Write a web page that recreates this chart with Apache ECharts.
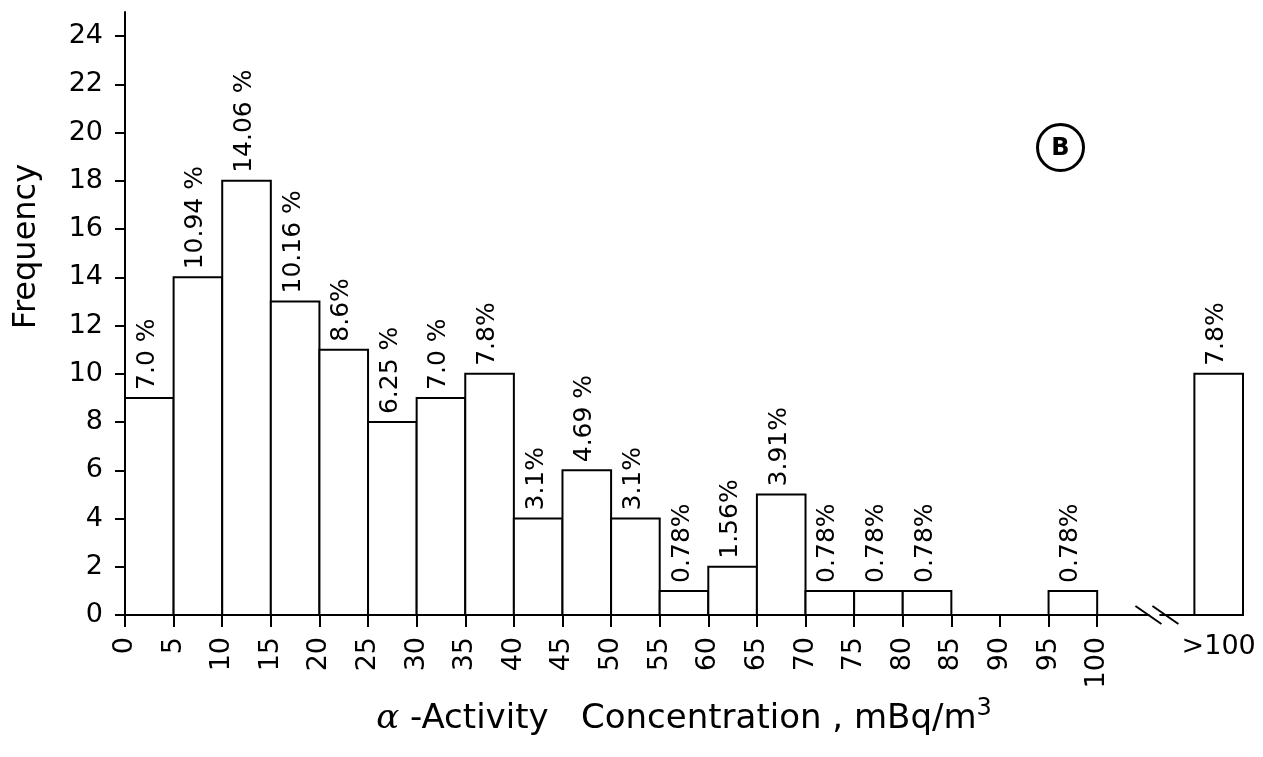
<!DOCTYPE html>
<html><head><meta charset="utf-8">
<script src="https://cdn.jsdelivr.net/npm/echarts@6/dist/echarts.min.js"></script>
<style>html,body{margin:0;padding:0;background:#fff}#c{width:1263px;height:757px}</style>
</head><body><div id="c"></div>
<script>
// ---- data ----
const binStarts = [0,5,10,15,20,25,30,35,40,45,50,55,60,65,70,75,80,85,90,95];
const frequencies = [9,14,18,13,11,8,9,10,4,6,4,1,2,5,1,1,1,0,0,1];
const percentLabels = ['7.0 %','10.94 %','14.06 %','10.16 %','8.6%','6.25 %','7.0 %','7.8%','3.1%','4.69 %','3.1%','0.78%','1.56%','3.91%','0.78%','0.78%','0.78%','','','0.78%'];
const overflowCategory = '>100';
const overflowFrequency = 10;
const overflowPercent = '7.8%';
const xTickValues = [0,5,10,15,20,25,30,35,40,45,50,55,60,65,70,75,80,85,90,95,100];
const yTickValues = [0,2,4,6,8,10,12,14,16,18,20,22,24];

// ---- layout constants ----
const BIN_WIDTH = 5;
const OVERFLOW_START = 110;   // position of the >100 bar after the axis break
const X_MAX = 115;
const Y_MAX = 25;
const BREAK_AT = 106.2;
const FONT = '"DejaVu Sans", "Liberation Sans", sans-serif';

const barData = binStarts.map((s, i) => [s, s + BIN_WIDTH, frequencies[i], percentLabels[i]])
  .filter(d => d[2] > 0);
barData.push([OVERFLOW_START, OVERFLOW_START + BIN_WIDTH, overflowFrequency, overflowPercent]);

function renderBar(params, api) {
  const x0 = api.value(0), x1 = api.value(1), v = api.value(2);
  const p0 = api.coord([x0, 0]);
  const p1 = api.coord([x1, v]);
  const label = barData[params.dataIndex][3];
  return {
    type: 'group',
    children: [
      { type: 'rect', shape: { x: p0[0], y: p1[1], width: p1[0] - p0[0], height: p0[1] - p1[1] },
        style: { fill: '#fff', stroke: '#000', lineWidth: 2 } },
      { type: 'text', x: (p0[0] + p1[0]) / 2 - 2, y: p1[1] - 8, rotation: Math.PI / 2,
        style: { text: label, fill: '#000', fontSize: 25, fontFamily: FONT,
                 align: 'left', verticalAlign: 'middle' } }
    ]
  };
}

function renderBreak(params, api) {
  const p = api.coord([api.value(0), 0]);
  const mk = dx => ({ type: 'line', shape: { x1: p[0] + dx - 13, y1: p[1] - 9, x2: p[0] + dx + 13, y2: p[1] + 9 },
    style: { stroke: '#000', lineWidth: 2 } });
  return { type: 'group', children: [
    { type: 'rect', shape: { x: p[0] - 8, y: p[1] - 2, width: 10, height: 4 }, style: { fill: '#fff' } },
    mk(-9), mk(8)
  ] };
}

const chart = echarts.init(document.getElementById('c'));
chart.setOption({
  backgroundColor: '#fff',
  animation: false,
  grid: { left: 125, right: 20, top: 12, bottom: 142 },
  xAxis: [{
    type: 'value', min: 0, max: X_MAX,
    name: '{a|α} -Activity   Concentration , mBq/m{sup|3}',
    nameLocation: 'middle', nameGap: 80,
    nameTextStyle: { fontSize: 34, fontFamily: FONT, color: '#000',
      rich: { a: { fontSize: 34, fontFamily: 'DejaVu Serif', fontStyle: 'italic', color: '#000' },
              sup: { fontSize: 24, fontFamily: FONT, color: '#000', verticalAlign: 'bottom', padding: [0, 0, 22, 0] } } },
    axisLine: { show: true, onZero: true, lineStyle: { color: '#000', width: 2 } },
    axisTick: { show: true, length: 12, customValues: xTickValues, lineStyle: { color: '#000', width: 2 } },
    axisLabel: { customValues: xTickValues, rotate: 90, margin: 22, fontSize: 27, fontFamily: FONT, color: '#000' },
    splitLine: { show: false }
  }, {
    type: 'value', min: 0, max: X_MAX, position: 'bottom',
    axisLine: { show: false }, axisTick: { show: false }, splitLine: { show: false },
    axisLabel: { customValues: [OVERFLOW_START + BIN_WIDTH / 2], formatter: () => overflowCategory,
      rotate: 0, margin: 18, fontSize: 27, fontFamily: FONT, color: '#000' }
  }],
  yAxis: {
    type: 'value', min: 0, max: Y_MAX,
    name: 'Frequency', nameLocation: 'middle', nameGap: 82,
    nameTextStyle: { fontSize: 32, fontFamily: FONT, color: '#000', padding: [0, 0, 0, 134] },
    axisLine: { show: true, lineStyle: { color: '#000', width: 2 } },
    axisTick: { show: true, length: 10, customValues: yTickValues, lineStyle: { color: '#000', width: 2 } },
    axisLabel: { customValues: yTickValues, margin: 22, fontSize: 27, fontFamily: FONT, color: '#000' },
    splitLine: { show: false }
  },
  graphic: [{
    type: 'group', left: 1035, top: 122,
    children: [
      { type: 'circle', shape: { cx: 24, cy: 24, r: 23 }, style: { fill: 'none', stroke: '#000', lineWidth: 3 } },
      { type: 'text', x: 24, y: 25, style: { text: 'B', fontSize: 24, fontWeight: 'bold', fontFamily: FONT, fill: '#000', align: 'center', verticalAlign: 'middle' } }
    ]
  }],
  series: [{
    type: 'custom', renderItem: renderBar, data: barData, clip: false,
    encode: { x: [0, 1], y: 2 }
  }, {
    type: 'custom', renderItem: renderBreak, data: [[BREAK_AT]], clip: false,
    encode: { x: 0 }, z: 5
  }]
});
</script>
</body></html>
